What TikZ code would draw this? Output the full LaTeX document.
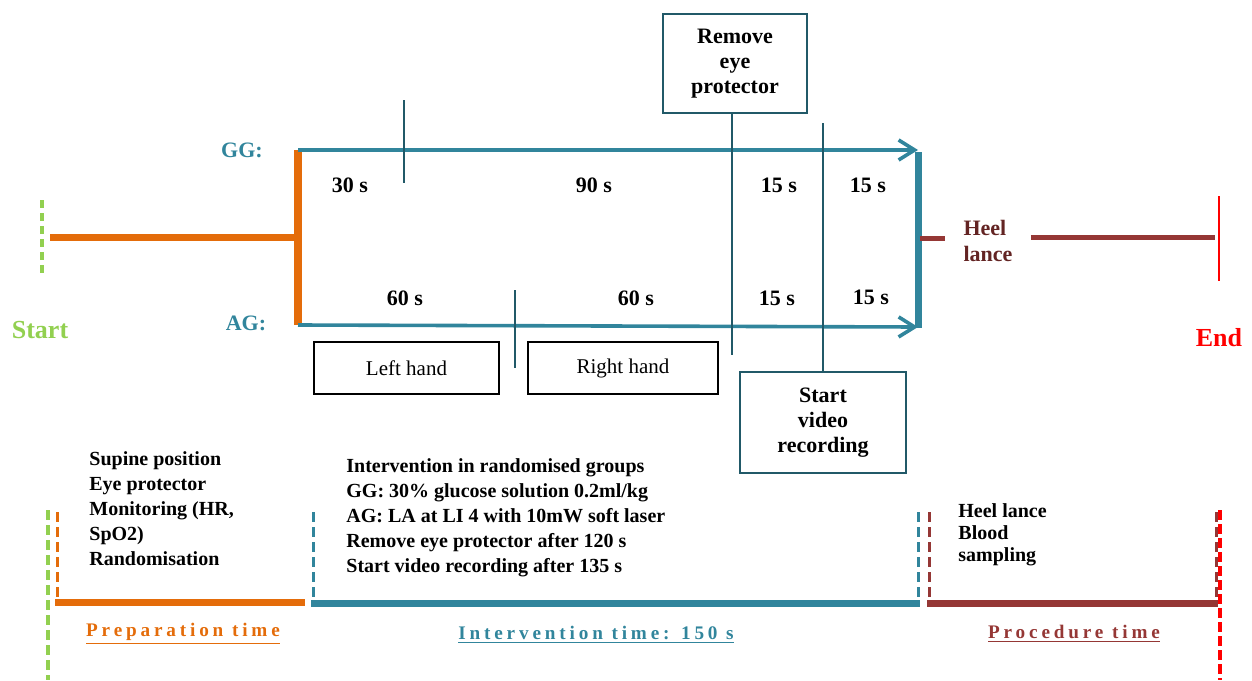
\documentclass[tikz,border=0pt]{standalone}
\usepackage{fontspec}
\setmainfont{Liberation Serif}
\newfontfamily\spacedfont[LetterSpace=20]{Liberation Serif}
\usepackage{tikz}
\usetikzlibrary{arrows.meta,positioning}
\definecolor{tealLine}{HTML}{31859C}
\definecolor{darkTeal}{HTML}{215968}
\definecolor{prepOrange}{HTML}{E46C0A}
\definecolor{procBrown}{HTML}{953735}
\definecolor{heelText}{HTML}{632423}
\definecolor{startGreen}{HTML}{92D050}
\definecolor{endRed}{HTML}{FF0000}

\begin{document}
\begin{tikzpicture}[x=0.5pt, y=-0.5pt,
  timebox/.style={draw=darkTeal, line width=1.1pt, align=center,
                  font=\bfseries\fontsize{11}{12.5}\selectfont},
  handbox/.style={draw=black, line width=0.6pt, minimum height=26pt,
                  font=\fontsize{10.5}{12}\selectfont},
  dur/.style={font=\bfseries\fontsize{11}{13}\selectfont},
  grp/.style={text=tealLine, font=\bfseries\fontsize{11}{13}\selectfont},
  steps/.style={anchor=north west, align=left, inner sep=0pt,
                font=\bfseries\fontsize{10}{12.5}\selectfont},
  phase/.style={font=\spacedfont\bfseries\fontsize{9.6}{11}\selectfont},
  tick/.style={draw=darkTeal, line width=1pt},
  drop/.style={line width=1.5pt, dash pattern=on 5pt off 2.5pt}
]
  \useasboundingbox (0,0) rectangle (1252,680);

  % top timeline
  \coordinate (startPt) at (50,237);
  \coordinate (prepEnd) at (298,237);
  \coordinate (ggStart) at (298,150);
  \coordinate (agStart) at (298,325);
  \coordinate (ggEnd)   at (918,150);
  \coordinate (agEnd)   at (918,327);
  \coordinate (interTop) at (918,152);
  \coordinate (interBot) at (918,328);

  \draw[startGreen, line width=2pt, dash pattern=on 4pt off 2.5pt] (42,200) -- (42,276);
  \draw[prepOrange, line width=3.5pt] (startPt) -- (prepEnd);
  \draw[prepOrange, line width=4pt] (ggStart) -- (agStart);
  \foreach \a/\b in {ggStart/ggEnd,agStart/agEnd}
    \draw[-{Straight Barb[length=8pt,width=10pt]}, tealLine, line width=1.8pt] (\a) -- (\b);
  \draw[tealLine, line width=3.5pt] (interTop) -- (interBot);

  \node[grp] (gg) at (242,150) {GG:};
  \node[grp] (ag) at (246,323) {AG:};

  % boxes
  \node[timebox, minimum width=72pt, minimum height=49.5pt] (remove) at (735,63.5) {Remove\\eye\\protector};
  \node[timebox, minimum width=83pt, minimum height=50.5pt] (video) at (823,422.5) {Start\\video\\recording};
  \node[handbox, minimum width=92.5pt] (left)  at (406.5,368) {Left hand};
  \node[handbox, minimum width=95pt]   (right) at (623,368)   {Right hand};

  % ticks
  \coordinate (ggTickA) at (404,100);
  \coordinate (ggTickB) at (404,183);
  \coordinate (agTickA) at (515,290);
  \coordinate (agTickB) at (515,368);
  \coordinate (removeFoot) at ([xshift=-1.5pt]remove.south);
  \coordinate (removeEnd) at (732,355);
  \coordinate (videoTop) at (823,123);
  \draw[tick] (ggTickA) -- (ggTickB);
  \draw[tick] (agTickA) -- (agTickB);
  \draw[tick] (removeFoot) -- (removeEnd);
  \draw[tick] (videoTop) -- (video.north);

  % durations
  \node[dur] (d30) at (350,185) {30 s};
  \node[dur] (d90) at (594,185) {90 s};
  \node[dur] (dg1) at (779,185) {15 s};
  \node[dur] (dg2) at (868,185) {15 s};
  \node[dur] (d60a) at (405,298) {60 s};
  \node[dur] (d60b) at (636,298) {60 s};
  \node[dur] (da1) at (777,298) {15 s};
  \node[dur] (da2) at (871,297) {15 s};

  % procedure
  \coordinate (heelStub) at (920,238);
  \coordinate (endPt) at (1215,237);
  \node[text=heelText, align=left, inner xsep=9pt,
        font=\bfseries\fontsize{11}{13}\selectfont] (heel) at (988,241) {Heel\\lance};
  \draw[procBrown, line width=2.5pt] (heelStub) -- (heel.west |- heelStub);
  \draw[procBrown, line width=2.5pt] (heel.east |- endPt) -- (endPt);
  \draw[endRed, line width=1pt] (1219,196) -- (1219,281);

  \node[text=startGreen, font=\bfseries\fontsize{13}{15}\selectfont] (start) at (40,330) {Start};
  \node[text=endRed, font=\bfseries\fontsize{13}{15}\selectfont] (end) at (1219,338) {End};

  % phase lists
  \node[steps] (prepList) at (89,451) {Supine position\\Eye protector\\Monitoring (HR,\\SpO2)\\Randomisation};
  \node[steps] (interList) at (346,458) {Intervention in randomised groups\\GG: 30\% glucose solution 0.2ml/kg\\AG: LA at LI 4 with 10mW soft laser\\Remove eye protector after 120 s\\Start video recording after 135 s};
  \node[steps, font=\bfseries\fontsize{10}{11}\selectfont] (procList) at (958,503) {Heel lance\\Blood\\sampling};

  % phase brackets
  \draw[startGreen, line width=2pt, dash pattern=on 5pt off 2.5pt] (48,510) -- (48,680);
  \draw[endRed, line width=2pt, dash pattern=on 5pt off 2pt] (1220,510) -- (1220,680);
  \foreach \x/\c in {57/prepOrange,313/tealLine,918/tealLine,929/procBrown,1216/procBrown}
    \draw[drop, \c] (\x,512) -- (\x,600);
  \draw[prepOrange, line width=3.5pt] (55,602) -- (305,602);
  \draw[tealLine, line width=3.5pt] (311,603) -- (920,603);
  \draw[procBrown, line width=3.5pt] (927,603) -- (1218,603);

  \node[phase, text=prepOrange] (prepLbl)  at (183,634) {\underline{Preparation time}};
  \node[phase, text=tealLine]   (interLbl) at (596,635) {\underline{Intervention time: 150 s}};
  \node[phase, text=procBrown]  (procLbl)  at (1074,634) {\underline{Procedure time}};
\end{tikzpicture}
\end{document}
